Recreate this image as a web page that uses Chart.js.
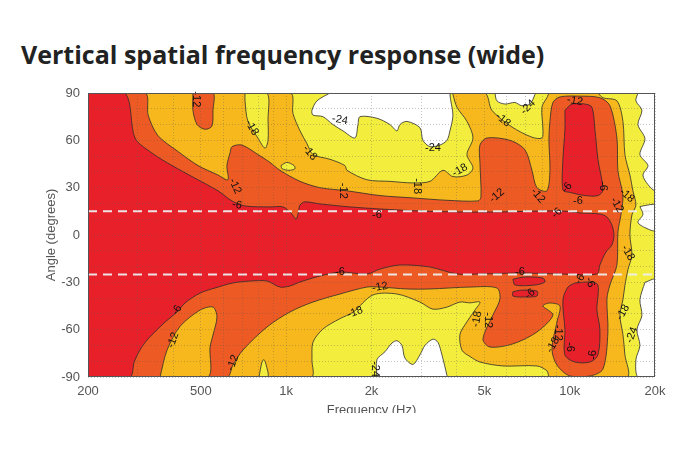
<!DOCTYPE html>
<html>
<head>
<meta charset="utf-8">
<script src="https://cdn.jsdelivr.net/npm/chart.js@4.4.1/dist/chart.umd.min.js"></script>
<style>
  html, body { margin: 0; padding: 0; background: #fff; }
  body { width: 690px; height: 460px; position: relative; overflow: hidden; }
  #title { position: absolute; left: 21px; top: 41px; font: bold 25px "Open Sans", "Noto Sans", sans-serif; line-height: 26px; color: #222; white-space: nowrap; }
  #clip { position: absolute; left: 0; top: 76px; width: 690px; height: 337px; overflow: hidden; }
</style>
</head>
<body>
<div id="title">Vertical spatial frequency response (wide)</div>
<div id="clip"><canvas id="chart" width="690" height="354"></canvas></div>
<script>
// contour regions, each point is [frequency Hz, angle deg]
const areaAll = [[200, -90], [200, 90], [20000, 90], [20000, -90]];

// below -24 dB
const white1 = [[1427, 90], [1284, 85], [1233, 79], [1243, 76], [1348, 75], [1462, 70], [1586, 66], [1748, 61.5], [1792, 70], [1821, 75], [2090, 74], [2323, 70], [2459, 66], [2520, 70], [2667, 72], [2964, 68], [3037, 60], [3215, 56], [3487, 57], [3691, 60], [3782, 66], [3875, 76], [3782, 89], [3844, 90]];
const white2 = [[5451, 90], [5540, 85], [5911, 83], [6411, 84], [6760, 82], [7242, 83], [7542, 89], [7542, 90]];
const white3 = [[17410, 90], [17129, 85], [17984, 79], [17410, 70], [18428, 61], [17695, 51], [18883, 44], [18132, 38], [18883, 32], [20000, 28.5], [20000, 90]];
const white4 = [[17695, 18], [18883, 19], [20000, 19], [20000, 3], [18580, 4.4], [17410, 8], [18132, 13]];
const white5 = [[18428, -30], [20000, -28.5], [20000, -90], [17410, -90], [17129, -79], [17695, -70], [17268, -60], [17984, -51], [17695, -41]];
const white6 = [[2090, -90], [2090, -79], [2231, -74], [2361, -68.5], [2459, -67], [2561, -70], [2624, -78], [2800, -82], [2964, -76], [3087, -70], [3294, -66], [3431, -68], [3544, -76], [3691, -89], [3691, -90]];

// above -18 dB
const orange1 = [[200, 90], [1031, 90], [1057, 77], [1119, 66], [1184, 58], [1243, 51], [1427, 48], [1612, 44], [1639, 41], [1927, 35], [2323, 34], [2800, 33], [3215, 34], [3573, 41], [3875, 37], [4342, 38], [4559, 42.5], [4342, 51], [4559, 61.5], [4342, 72], [4003, 81], [3875, 89], [3875, 90], [5025, 90], [5319, 79], [6257, 68.5], [7361, 62], [7983, 61.5], [8049, 67], [7983, 81], [8314, 87], [8519, 90], [12478, 90], [13102, 87], [14680, 85], [15413, 72], [15665, 51], [16314, 38], [16717, 28], [17129, 19], [16581, 12.7], [16314, 0], [16581, -12.7], [16052, -22], [15665, -32], [15413, -41], [15042, -51], [15413, -63], [15665, -76], [15921, -90], [8519, -90], [8314, -86], [7665, -83], [5816, -83], [4825, -80.5], [4449, -77], [4169, -73], [4102, -63], [4342, -55], [4633, -47.6], [4825, -42.5], [4449, -43], [4102, -42.5], [3691, -45.7], [3294, -47], [2964, -42.5], [2459, -37.4], [2024, -38], [1720, -49], [1548, -53], [1348, -59.6], [1243, -68], [1233, -79], [1223, -90], [200, -90]];
const orange2 = [[359, -90], [380, -73], [422, -58], [497, -47.6], [552, -45.7], [570, -52], [552, -63.4], [539, -71], [530, -90]];

// yellow pockets inside the -18 dB area
const yellow1 = [[716, 90], [716, 85], [733, 72], [795, 61.5], [842, 55], [863, 60], [863, 73], [856, 90]];
const yellow2 = [[959, 44], [1006, 46], [1066, 44], [1074, 42], [1023, 41], [968, 42]];
const yellow3 = [[802, -90], [822, -80.5], [835, -79], [849, -82], [863, -90]];

// above -12 dB
const dark1 = [[200, 90], [318, 90], [326, 76], [353, 63], [415, 53], [489, 44], [575, 38], [623, 35], [618, 44], [634, 52], [644, 56], [698, 57], [795, 51], [877, 46], [951, 41], [1119, 34], [1316, 30], [1639, 28], [2142, 25], [2800, 23.5], [3691, 22], [4748, 21.6], [4865, 24], [4825, 46], [4825, 57], [5107, 61.5], [6156, 60], [6954, 54], [7361, 41], [7665, 30], [8314, 28], [8519, 41], [8450, 60], [8519, 72], [8730, 84], [9240, 87.5], [10869, 88], [12786, 87], [13868, 82], [14680, 61.5], [14800, 40.6], [15413, 25], [15165, 12.7], [14800, 1.9], [14680, -19], [13868, -31.7], [13535, -40.6], [13645, -61.5], [13102, -85], [11789, -89.4], [10022, -89.4], [9018, -82.4], [8659, -72.3], [9018, -55.2], [9240, -45], [8519, -43.1], [8049, -45], [8730, -50.7], [7665, -61.5], [6308, -69], [5234, -71], [4944, -66], [5363, -50.7], [5676, -40.6], [5540, -33.6], [4449, -33], [3215, -34.2], [2667, -34.2], [2142, -33], [1927, -33], [1548, -37.4], [1243, -42.5], [1031, -48.8], [856, -58.3], [704, -72.9], [649, -82.4], [618, -90], [200, -90]];
const dark2 = [[469, 90], [469, 79], [485, 70], [517, 67], [547, 69], [552, 79], [552, 90]];

// above -6 dB
const red1 = [[200, 90], [270, 90], [293, 61.5], [336, 52], [396, 44], [477, 36], [575, 28], [644, 21.6], [716, 18.4], [877, 17.8], [974, 17.8], [1040, 14], [1083, 10], [1101, 13.3], [1119, 19], [1165, 21], [1316, 19.7], [1679, 17.8], [2142, 16.5], [2964, 15.2], [4102, 14.6], [5676, 14.6], [7855, 15.2], [9468, 15.2], [10869, 14], [12786, 13.3], [13535, 11.4], [14095, 6.3], [14327, 0], [14095, -6.3], [13425, -10.8], [12786, -19], [12478, -24.7], [9240, -24.7], [6677, -24.1], [4825, -24.7], [4003, -24.7], [3215, -20.3], [2520, -19], [2142, -21.6], [1927, -24.7], [1548, -23.5], [1316, -26], [1119, -29.8], [1031, -32.3], [951, -33], [856, -29.2], [745, -29.2], [649, -30.4], [561, -33.6], [497, -36.8], [440, -43.1], [412, -48.8], [374, -55.2], [350, -60.2], [323, -66.6], [305, -72.9], [291, -80.5], [281, -90], [200, -90]];
const red2 = [[9623, 79], [10186, 83], [11320, 83], [11982, 81], [12277, 67], [12581, 48], [13102, 28.5], [12581, 25], [11320, 25], [10022, 27], [9468, 28.5], [9468, 48], [9623, 67]];
const red3 = [[6308, -28], [6954, -26.6], [8049, -27.3], [8180, -29.8], [7542, -31.7], [6411, -31.7]];
const red4 = [[6308, -36], [6677, -35], [7665, -35.5], [7665, -38.7], [6954, -39.3], [6308, -38.7]];
const red5 = [[10437, -30.4], [11789, -29.8], [12581, -31.7], [12478, -47.6], [12786, -60], [12581, -76], [11789, -80.5], [10437, -80.5], [9623, -76], [9623, -60], [9468, -41.2], [9861, -33]];

// dashed reference angles
const refAngles = [15, -25];

// axis ticks
const freqTicks = [200, 300, 400, 500, 600, 700, 800, 900, 1000, 2000, 3000, 4000, 5000, 6000, 7000, 8000, 9000, 10000, 20000];
const freqLabels = { 200: "200", 500: "500", 1000: "1k", 2000: "2k", 5000: "5k", 10000: "10k", 20000: "20k" };

// contour level labels: [Hz, deg, text, rotation]
const contourLabels = [
  [480, 86, "-12", 90], [757, 68, "-18", 60], [1213, 52, "-18", 50], [1548, 73, "-24", 10],
  [660, 31, "-12", 65], [671, 19, "-6", 10], [1586, 28, "-12", 90], [2090, 12.7, "-6", 0],
  [2893, 31, "-18", 90], [3294, 55, "-24", 0], [4102, 41, "-18", -30], [5816, 73, "-18", 40],
  [7126, 81, "-24", -45], [10437, 85, "-12", 10], [5540, 25, "-12", -40], [7728, 25, "-12", 50],
  [9780, 30, "-6", -50], [13102, 31, "-6", 90], [10694, 21.6, "-6", 0], [15921, 25, "-18", 40],
  [14680, 19, "-12", 60], [9018, 14, "-6", -45], [16052, -11.4, "-18", 60], [1548, -23.5, "-6", 0],
  [6677, -23.5, "-6", 0], [7242, -37.4, "-6", -40], [10869, -28, "-6", -60], [11789, -30, "-6", 70],
  [2142, -33, "-12", -10], [1748, -49, "-18", -20], [412, -47.6, "-6", -60], [399, -66.6, "-12", -70],
  [649, -81, "-12", -70], [4709, -53.3, "-18", -80], [5149, -54, "-12", 90], [8730, -69.8, "-18", -60],
  [9091, -62, "-12", 90], [10022, -71, "-6", 90], [12080, -76, "-6", -90], [15413, -49, "-18", -60],
  [16581, -63.4, "-24", -70], [2057, -85, "-24", 90]
];

const colors = {
  base: "#f3ee3e",
  white: "#ffffff",
  yellow: "#f3ee3e",
  orange: "#f7b81d",
  dark: "#ee5a24",
  red: "#e8202a",
};

// drawing order: first is at the bottom
const regions = [
  [areaAll, "base"],
  [white1, "white"], [white2, "white"], [white3, "white"], [white4, "white"], [white5, "white"], [white6, "white"],
  [orange1, "orange"],
  [yellow1, "yellow"], [yellow2, "yellow"], [yellow3, "yellow"],
  [dark1, "dark"], [dark2, "dark"],
  [orange2, "orange"],
  [red1, "red"], [red2, "red"], [red3, "red"], [red4, "red"], [red5, "red"],
];

const datasets = regions.map(([pts, level], i) => ({
  data: pts.concat([pts[0]]).map((p) => ({ x: p[0], y: p[1] })),
  backgroundColor: colors[level],
  borderColor: level === "base" ? "rgba(0,0,0,0)" : "#2b2b2b",
  borderWidth: level === "base" ? 0 : 0.8,
  fill: "shape",
  tension: 0.3,
  pointRadius: 0,
  clip: 0,
  order: regions.length - i + 5,
}));

refAngles.forEach((a) => {
  datasets.push({
    data: [{ x: 200, y: a }, { x: 20000, y: a }],
    borderColor: "rgba(238,238,238,0.95)",
    borderWidth: 2,
    borderDash: [9, 6],
    fill: false,
    pointRadius: 0,
    clip: 0,
    order: 0,
  });
});

const labelPlugin = {
  id: "contourLabels",
  afterDatasetsDraw(chart) {
    const ctx = chart.ctx;
    const x = chart.scales.x;
    const y = chart.scales.y;
    ctx.save();
    ctx.font = "11px 'Liberation Sans', Arial, sans-serif";
    ctx.fillStyle = "#111";
    ctx.textAlign = "center";
    ctx.textBaseline = "middle";
    contourLabels.forEach(([f, a, t, r]) => {
      ctx.save();
      ctx.translate(x.getPixelForValue(f), y.getPixelForValue(a));
      ctx.rotate((r * Math.PI) / 180);
      ctx.fillText(t, 0, 0);
      ctx.restore();
    });
    ctx.restore();
  },
  afterDraw(chart) {
    const { ctx, chartArea } = chart;
    ctx.save();
    ctx.strokeStyle = "#555";
    ctx.lineWidth = 1;
    ctx.strokeRect(chartArea.left + 0.5, chartArea.top + 0.5, chartArea.right - chartArea.left - 1, chartArea.bottom - chartArea.top - 1);
    ctx.restore();
  },
};

const gridStyle = { color: "rgba(90,90,90,0.35)", lineWidth: 1, drawTicks: false, z: 1 };

const chart = new Chart(document.getElementById("chart"), {
  type: "line",
  data: { datasets: datasets },
  options: {
    responsive: false,
    animation: false,
    events: [],
    layout: { padding: { left: 40, right: 35, top: 17, bottom: 8 } },
    plugins: {
      legend: { display: false },
      tooltip: { enabled: false },
    },
    scales: {
      x: {
        type: "logarithmic",
        min: 200,
        max: 20000,
        afterBuildTicks: (s) => {
          s.ticks = freqTicks.map((v) => ({ value: v }));
        },
        afterFit: (s) => {
          s.height = 45;
        },
        ticks: {
          autoSkip: false,
          maxRotation: 0,
          padding: 7,
          color: "#555",
          font: { family: "'Liberation Sans', Arial", size: 13 },
          callback: (v) => freqLabels[v] || "",
        },
        grid: gridStyle,
        border: { display: false, dash: [1, 2] },
        title: {
          display: true,
          text: "Frequency (Hz)",
          color: "#555",
          font: { family: "'Liberation Sans', Arial", size: 13 },
        },
      },
      y: {
        type: "linear",
        min: -90,
        max: 90,
        afterFit: (s) => {
          s.width = 48;
        },
        ticks: {
          stepSize: 10,
          autoSkip: false,
          padding: 8,
          color: "#555",
          font: { family: "'Liberation Sans', Arial", size: 13 },
          callback: (v) => (v % 30 === 0 ? String(v) : ""),
        },
        grid: gridStyle,
        border: { display: false, dash: [1, 2] },
        title: {
          display: true,
          text: "Angle (degrees)",
          color: "#555",
          font: { family: "'Liberation Sans', Arial", size: 13 },
        },
      },
    },
  },
  plugins: [labelPlugin],
});
</script>
</body>
</html>
